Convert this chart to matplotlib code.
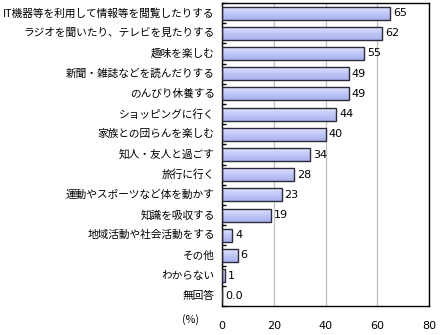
import numpy as np
import matplotlib
matplotlib.use("Agg")
import matplotlib.pyplot as plt
from matplotlib.colors import LinearSegmentedColormap

plt.rcParams['font.family'] = ['Noto Sans CJK JP', 'DejaVu Sans']

categories = ["IT機器等を利用して情報等を閲覧したりする", "ラジオを聞いたり、テレビを見たりする",
              "趣味を楽しむ", "新聞・雑誌などを読んだりする", "のんびり休養する",
              "ショッピングに行く", "家族との団らんを楽しむ", "知人・友人と過ごす",
              "旅行に行く", "運動やスポーツなど体を動かす", "知識を吸収する",
              "地域活動や社会活動をする", "その他", "わからない", "無回答"]
values = [65, 62, 55, 49, 49, 44, 40, 34, 28, 23, 19, 4, 6, 1, 0.0]
value_labels = ["65", "62", "55", "49", "49", "44", "40", "34", "28", "23", "19", "4", "6", "1", "0.0"]
xticks = [0, 20, 40, 60, 80]

fig = plt.figure(figsize=(4.4, 3.35), dpi=100)
ax = fig.add_axes([222/440, 1 - 306/335, 207/440, 303/335])

n = len(categories)
y = np.arange(n)
bars = ax.barh(y, values, height=0.65, facecolor='none', edgecolor='#2a2a3a', linewidth=1.0, zorder=3)

# gradient fill inside each bar
cmap = LinearSegmentedColormap.from_list("g", ["#e6e8ff", "#c2c8f6", "#aab2ee"])
grad = np.linspace(0, 1, 64).reshape(-1, 1)
for b in bars:
    w = b.get_width()
    if w <= 0:
        continue
    y0 = b.get_y()
    h = b.get_height()
    im = ax.imshow(grad, cmap=cmap, aspect='auto', extent=(0, w, y0, y0 + h),
                   origin='lower', zorder=2)
    im.set_clip_path(b)

for yi, v, lab in zip(y, values, value_labels):
    ax.text(v + 1.2, yi, lab, va='center', ha='left', fontsize=8, family=['DejaVu Sans'])

ax.set_xlim(0, 80)
ax.set_ylim(n - 0.5, -0.5)
ax.set_xticks(xticks)
ax.set_xticklabels([str(t) for t in xticks], fontsize=8, family=['DejaVu Sans'])
ax.tick_params(axis='x', length=0, pad=11)
ax.xaxis.grid(True, color='#c0c0c0', linewidth=0.9, zorder=0)
ax.set_axisbelow(True)

ax.set_yticks(np.arange(n + 1) - 0.5, minor=False)
ax.set_yticklabels([])
ax.tick_params(axis='y', direction='in', length=3, width=1, color='black')
for yi, c in zip(y, categories):
    ax.text(-0.035, yi, c, transform=ax.get_yaxis_transform(), ha='right', va='center', fontsize=7.7)
ax.text(-0.15, -0.045, "(%)", transform=ax.transAxes, ha='center', va='center', fontsize=7.7)

for s in ax.spines.values():
    s.set_color('black')
    s.set_linewidth(1.0)

fig.savefig("out.png", dpi=100)
